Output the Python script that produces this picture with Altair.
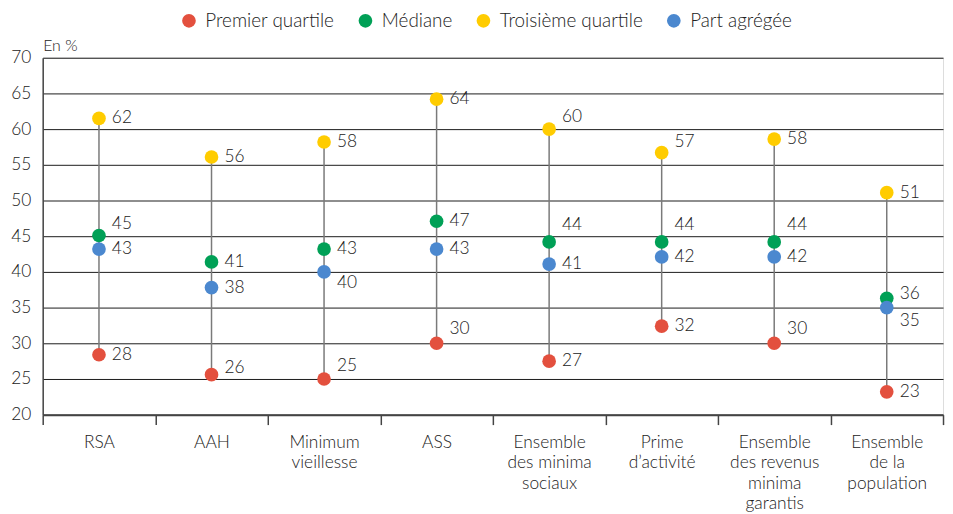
import altair as alt
import pandas as pd

categories = ["RSA", "AAH", "Minimum\nvieillesse", "ASS",
              "Ensemble\ndes minima\nsociaux", "Prime\nd’activité",
              "Ensemble\ndes revenus\nminima\ngarantis",
              "Ensemble\nde la\npopulation"]
series = ["Premier quartile", "Médiane", "Troisième quartile", "Part agrégée"]
colors = ["#e3503e", "#00a056", "#ffcc00", "#4b88cf"]

q1 = [28.4, 25.6, 25.0, 30.0, 27.5, 32.4, 30.0, 23.2]
med = [45.1, 41.4, 43.2, 47.1, 44.2, 44.2, 44.2, 36.3]
q3 = [61.5, 56.1, 58.2, 64.2, 60.0, 56.7, 58.6, 51.1]
part = [43.2, 37.8, 40.0, 43.2, 41.1, 42.1, 42.1, 35.0]

q1_lbl = [28, 26, 25, 30, 27, 32, 30, 23]
med_lbl = [45, 41, 43, 47, 44, 44, 44, 36]
q3_lbl = [62, 56, 58, 64, 60, 57, 58, 51]
part_lbl = [43, 38, 40, 43, 41, 42, 42, 35]

# label nudges in pixels (style only, positive = downward)
q1_nudge = [0, -7, -13, -14, 0, 0, -14, 0]
med_nudge = [-12, 0, 0, 0, -17, -17, -17, -4]
q3_nudge = [0, 0, 0, 0, -12, -11, 0, 0]
part_nudge = [0, 0, 11, 0, 0, 0, 0, 14]

Y_MIN, Y_MAX, PLOT_H = 20, 70, 360
PX_PER_UNIT = PLOT_H / (Y_MAX - Y_MIN)

rows = []
for s, vals, lbls, nud in zip(series, [q1, med, q3, part],
                              [q1_lbl, med_lbl, q3_lbl, part_lbl],
                              [q1_nudge, med_nudge, q3_nudge, part_nudge]):
    for c, v, l, n in zip(categories, vals, lbls, nud):
        rows.append({"cat": c, "serie": s, "value": v, "label": str(l),
                     "label_y": v - n / PX_PER_UNIT})
df = pd.DataFrame(rows)
order_map = {"Premier quartile": 0, "Troisième quartile": 1, "Médiane": 2, "Part agrégée": 3}
df["ord"] = df["serie"].map(order_map)
df = df.sort_values("ord")

stems = pd.DataFrame({"cat": categories, "q1": q1, "q3": q3})

FONT = "Lato"
FS = 17.5
FW = 300
TXT = "#222"

x_enc = alt.X("cat:N", sort=categories,
              scale=alt.Scale(type="band", paddingInner=0, paddingOuter=0),
              axis=alt.Axis(title=None, labelExpr="split(datum.label, '\\n')",
                            tickBand="extent", labelAngle=0, tickSize=10,
                            tickColor="#444", tickWidth=1.5,
                            domainColor="#444", domainWidth=2,
                            labelPadding=9, labelFontSize=FS, labelFontWeight=FW,
                            labelColor=TXT, labelLineHeight=20.5,
                            labelFont=FONT, grid=False))

y_scale = alt.Scale(domain=[Y_MIN, Y_MAX], nice=False, zero=False)
y_axis = alt.Axis(title="En %", titleAngle=0, titleX=0, titleY=-4,
                  titleAlign="left", titleBaseline="bottom",
                  titleFontSize=16, titleFontWeight=FW, titleColor=TXT,
                  titleFont=FONT,
                  values=list(range(20, 75, 5)), ticks=False, labelOverlap=False,
                  labelFontSize=FS, labelFontWeight=FW, labelColor=TXT, labelPadding=12,
                  labelFont=FONT,
                  domainColor="#444", domainWidth=1.5,
                  grid=True, gridColor="#1a1a1a", gridWidth=1)

rule = alt.Chart(stems).mark_rule(color="#7a7a7a", strokeWidth=1.5).encode(
    x=x_enc,
    y=alt.Y("q1:Q", scale=y_scale, axis=y_axis),
    y2="q3:Q",
)

points = alt.Chart(df).mark_circle(size=190, opacity=1).encode(
    x=x_enc,
    y=alt.Y("value:Q", scale=y_scale, axis=y_axis),
    color=alt.Color("serie:N", scale=alt.Scale(domain=series, range=colors),
                    legend=alt.Legend(title=None, orient="none", direction="horizontal",
                                      legendX=138, legendY=-47,
                                      symbolType="circle", symbolSize=190,
                                      labelFontSize=19, labelFontWeight=FW,
                                      labelColor=TXT,
                                      labelFont=FONT, columnPadding=21,
                                      labelOffset=7)),
    order=alt.Order("ord:Q"),
)

labels = alt.Chart(df).mark_text(align="left", baseline="middle", dx=13,
                                 fontSize=FS, fontWeight=FW, color=TXT,
                                 font=FONT).encode(
    x=x_enc,
    y=alt.Y("label_y:Q", scale=y_scale, axis=y_axis),
    text="label:N",
)

chart = alt.layer(rule, points, labels).properties(
    width=908, height=PLOT_H,
    autosize=alt.AutoSizeParams(type="none"),
    padding={"left": 35, "top": 48, "right": 2, "bottom": 96},
).configure_view(stroke=None).configure(font=FONT)

chart.save("out.html", embed_options={"renderer": "svg", "actions": False})
